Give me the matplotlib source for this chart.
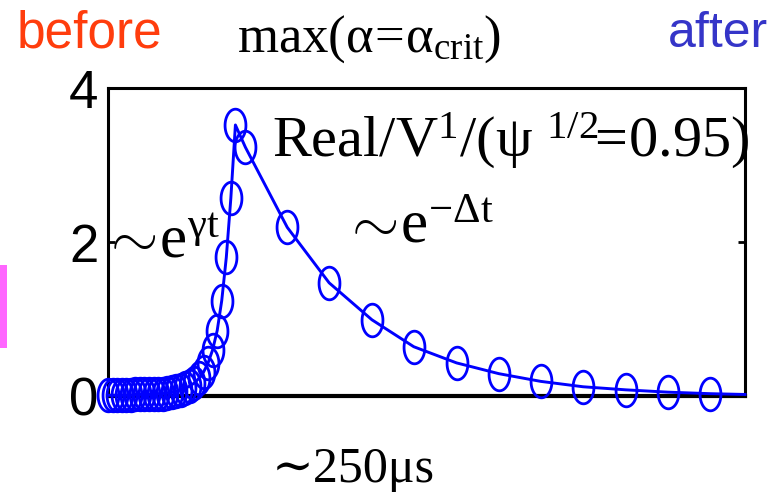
import matplotlib
matplotlib.use("Agg")
import matplotlib.pyplot as plt
from matplotlib.path import Path
from matplotlib.patches import Rectangle
import numpy as np

plt.rcParams["mathtext.fontset"] = "custom"
plt.rcParams["mathtext.rm"] = "Liberation Serif"
plt.rcParams["mathtext.it"] = "Liberation Serif:italic"
plt.rcParams["mathtext.bf"] = "Liberation Serif:bold"

# sampled amplitude of the mode (time in arbitrary units, amplitude normalised)
sample_t = [0, 1, 2, 3, 4, 5, 6, 7, 8, 9, 10, 11, 12, 13, 14, 15, 16, 17, 18,
            19, 20, 21, 22, 23, 24, 25, 26, 27, 28,
            30.2, 39.4, 48.6, 58.0, 67.2, 76.6, 85.9, 95.1, 104.4, 113.8,
            123.0, 132.4]
sample_v = [0.01, 0.01, 0.01, 0.01, 0.01, 0.01, 0.02, 0.02, 0.02, 0.02, 0.02,
            0.03, 0.03, 0.04, 0.05, 0.06, 0.08, 0.10, 0.13, 0.17, 0.23, 0.31,
            0.43, 0.60, 0.85, 1.24, 1.80, 2.57, 3.52,
            3.23, 2.19, 1.47, 0.99, 0.64, 0.43, 0.29, 0.19, 0.12, 0.08,
            0.05, 0.03]

# continuous trace: through the samples and on to the end of the window
curve_t = sample_t + [140]
curve_v = sample_v + [0.02]

y_ticks = [0, 2, 4]

blue = "#0000FF"

fig = plt.figure(figsize=(7.78, 4.92), dpi=100)
fig.patch.set_facecolor("white")
ax = fig.add_axes([108 / 778, 96 / 492, 637 / 778, 308 / 492])

# tall elliptical marker
theta = np.linspace(0, 2 * np.pi, 60)
ellipse = Path(np.column_stack([0.32 * np.cos(theta), 0.5 * np.sin(theta)]),
               closed=True)

ax.plot(curve_t, curve_v, color=blue, lw=2.1, clip_on=False, zorder=3)
ax.plot(sample_t, sample_v, linestyle="none", marker=ellipse, ms=23.5,
        mfc="none", mec=blue, mew=2.0, clip_on=False, zorder=4)

ax.set_xlim(0, 140)
ax.set_ylim(0, 4)
ax.set_xticks([])
ax.set_yticks(y_ticks)
ax.set_yticklabels([str(v) for v in y_ticks], family="Liberation Sans",
                   fontsize=38)
ax.tick_params(axis="y", direction="in", length=5, width=2, left=True,
               right=True, pad=7)
for side in ["left", "top", "right"]:
    ax.spines[side].set_linewidth(2.2)
ax.spines["bottom"].set_linewidth(3.0)

serif = ["Liberation Serif", "DejaVu Serif"]

fig.text(17 / 778, 1 - 47 / 492, "before", family="Liberation Sans",
         fontsize=37, color="#FF3D0D", va="baseline", ha="left")
fig.text(668 / 778, 1 - 47 / 492, "after", family="Liberation Sans",
         fontsize=36, color="#3535C8", va="baseline", ha="left")
fig.text(237 / 778, 1 - 52 / 492,
         r"$\mathrm{max(\alpha\!=\!\alpha_{crit})}$",
         fontsize=38, va="baseline", ha="left")
fig.text(272 / 778, 1 - 157 / 492,
         r"$\mathrm{Real/V^{1}/(\psi\ ^{1/2}\!\!=\!0.95)}$",
         fontsize=42, va="baseline", ha="left")
fig.text(102 / 778, 1 - 258 / 492, r"$\sim\!\mathrm{e^{\gamma t}}$",
         fontsize=44, va="baseline", ha="left")
fig.text(343 / 778, 1 - 242 / 492, r"$\sim\!\mathrm{e^{-\Delta t}}$",
         fontsize=44, va="baseline", ha="left")
fig.text(272 / 778, 1 - 482 / 492, "∼250μs", family=serif,
         fontsize=36, va="baseline", ha="left")

fig.patches.append(Rectangle((0, 144 / 492), 7 / 778, 83 / 492,
                             transform=fig.transFigure, color="#FF66FF",
                             lw=0))

fig.savefig("out.png", dpi=100)
